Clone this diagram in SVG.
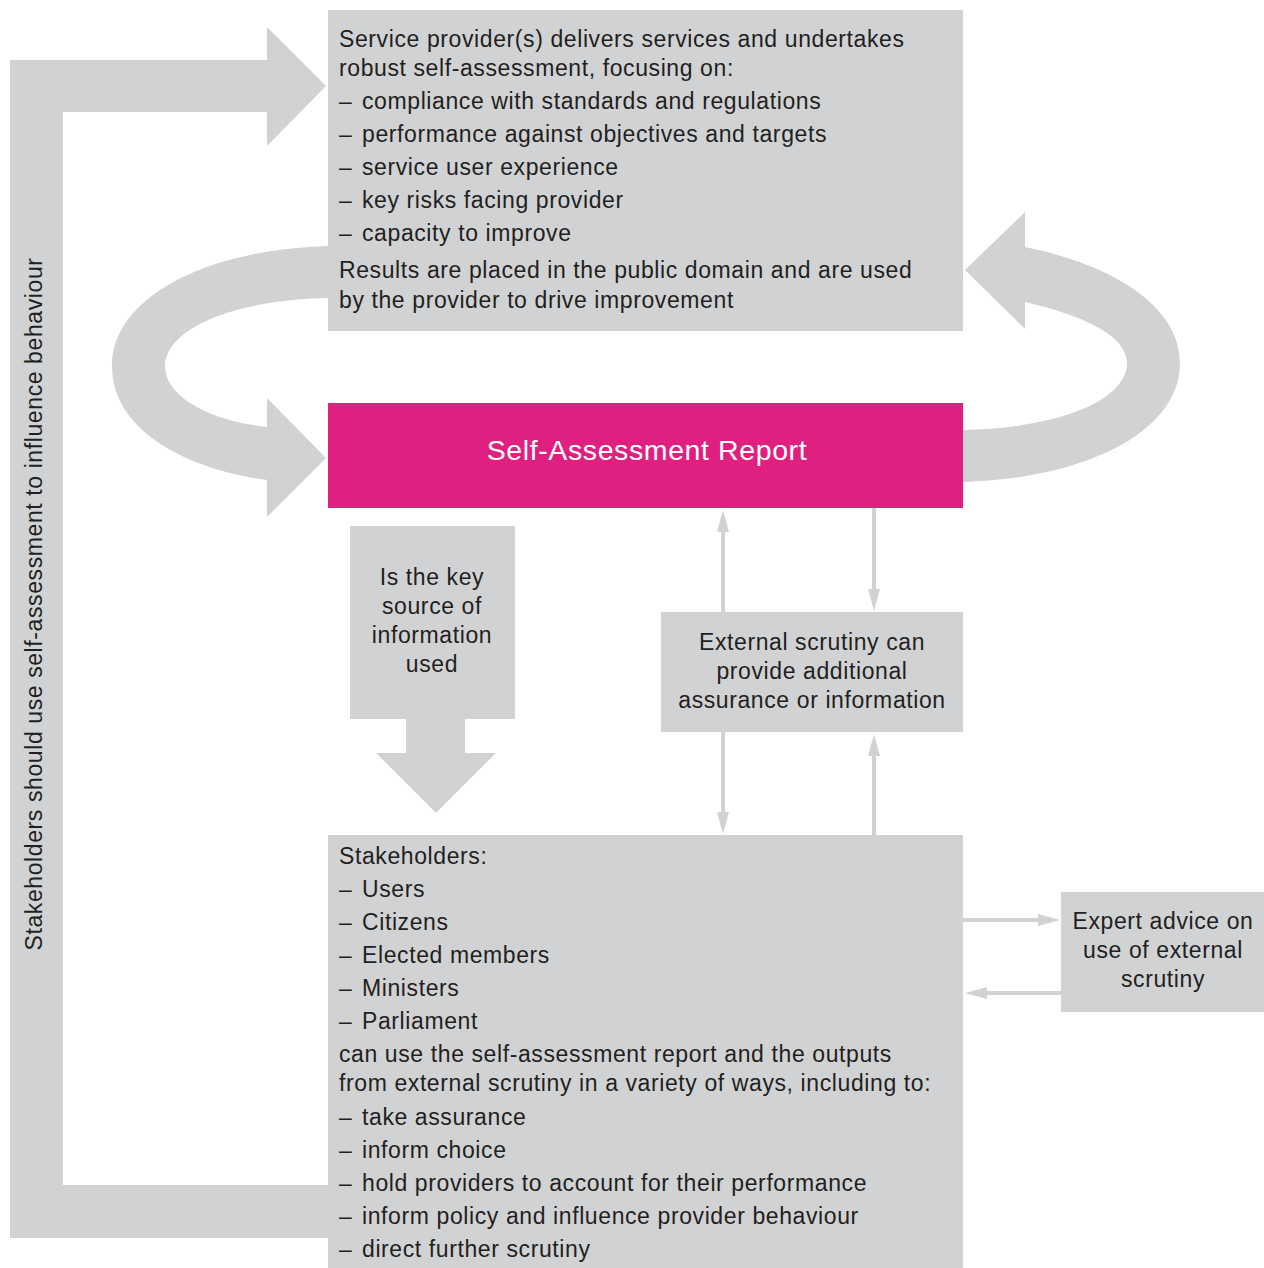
<svg xmlns="http://www.w3.org/2000/svg" width="1264" height="1268" viewBox="0 0 1264 1268">
<defs>
<style>
.box{fill:#d1d2d4}
.pink{fill:#e02081}
.big{fill:#d1d2d4}
.t{font-family:"Liberation Sans",Arial,sans-serif;font-size:23px;fill:#231f20;letter-spacing:0.6px}
.c{text-anchor:middle}
.w{font-family:"Liberation Sans",Arial,sans-serif;font-size:28.5px;fill:#ffffff;text-anchor:middle;letter-spacing:0.6px}
.ln{stroke:#d1d2d4;stroke-width:4;fill:none}
</style>
<marker id="ah" viewBox="0 0 22 12" refX="14" refY="6" markerWidth="22" markerHeight="12" markerUnits="userSpaceOnUse" orient="auto">
<path d="M0,0 L22,6 L0,12 Z" fill="#d1d2d4"/>
</marker>
</defs>
<rect width="1264" height="1268" fill="#ffffff"/>

<g id="connectors">
<path class="big" d="M328,1185 L328,1238 L10,1238 L10,60 L267,60 L267,27 L326,86 L267,146 L267,112 L63,112 L63,1185 Z"/>
<path class="big" d="M328,246 C200,250 112,300 112,366 C112,432 190,470 267,480 L267,517 L326,458 L267,398 L267,427 C205,420 165,395 165,366 C165,330 230,300 328,298 Z"/>
<path class="big" d="M965,270 L1025,212 L1025,247 C1110,264 1180,305 1180,363 C1180,430 1090,478 963,482 L963,430 C1060,428 1127,400 1127,363 C1127,336 1085,316 1025,302 L1025,329 Z"/>
<path class="big" d="M406,719 L465,719 L465,753 L496,753 L436,813 L376,753 L406,753 Z"/>
<line class="ln" x1="723" y1="612" x2="723" y2="518" marker-end="url(#ah)"/>
<line class="ln" x1="723" y1="732" x2="723" y2="826" marker-end="url(#ah)"/>
<line class="ln" x1="874" y1="508" x2="874" y2="603" marker-end="url(#ah)"/>
<line class="ln" x1="874" y1="835" x2="874" y2="742" marker-end="url(#ah)"/>
<line class="ln" x1="963" y1="920" x2="1052" y2="920" marker-end="url(#ah)"/>
<line class="ln" x1="1061" y1="993" x2="973" y2="993" marker-end="url(#ah)"/>
</g>

<g id="provider">
<rect class="box" x="328" y="10" width="635" height="321"/>
<text class="t" x="339" y="47">Service provider(s) delivers services and undertakes</text>
<text class="t" x="339" y="76">robust self-assessment, focusing on:</text>
<text class="t" x="339" y="109">–</text><text class="t" x="362" y="109">compliance with standards and regulations</text>
<text class="t" x="339" y="142">–</text><text class="t" x="362" y="142">performance against objectives and targets</text>
<text class="t" x="339" y="175">–</text><text class="t" x="362" y="175">service user experience</text>
<text class="t" x="339" y="208">–</text><text class="t" x="362" y="208">key risks facing provider</text>
<text class="t" x="339" y="241">–</text><text class="t" x="362" y="241">capacity to improve</text>
<text class="t" x="339" y="278">Results are placed in the public domain and are used</text>
<text class="t" x="339" y="308">by the provider to drive improvement</text>
</g>

<g id="report">
<rect class="pink" x="328" y="403" width="635" height="105"/>
<text class="w" x="647" y="460">Self-Assessment Report</text>
</g>

<g id="keysource">
<rect class="box" x="350" y="526" width="165" height="193"/>
<text class="t c" x="432" y="585">Is the key</text>
<text class="t c" x="432" y="614">source of</text>
<text class="t c" x="432" y="643">information</text>
<text class="t c" x="432" y="672">used</text>
</g>

<g id="external">
<rect class="box" x="661" y="612" width="302" height="120"/>
<text class="t c" x="812" y="650">External scrutiny can</text>
<text class="t c" x="812" y="679">provide additional</text>
<text class="t c" x="812" y="708">assurance or information</text>
</g>

<g id="stakeholders">
<rect class="box" x="328" y="835" width="635" height="433"/>
<text class="t" x="339" y="864">Stakeholders:</text>
<text class="t" x="339" y="897">–</text><text class="t" x="362" y="897">Users</text>
<text class="t" x="339" y="930">–</text><text class="t" x="362" y="930">Citizens</text>
<text class="t" x="339" y="963">–</text><text class="t" x="362" y="963">Elected members</text>
<text class="t" x="339" y="996">–</text><text class="t" x="362" y="996">Ministers</text>
<text class="t" x="339" y="1029">–</text><text class="t" x="362" y="1029">Parliament</text>
<text class="t" x="339" y="1062">can use the self-assessment report and the outputs</text>
<text class="t" x="339" y="1091">from external scrutiny in a variety of ways, including to:</text>
<text class="t" x="339" y="1125">–</text><text class="t" x="362" y="1125">take assurance</text>
<text class="t" x="339" y="1158">–</text><text class="t" x="362" y="1158">inform choice</text>
<text class="t" x="339" y="1191">–</text><text class="t" x="362" y="1191">hold providers to account for their performance</text>
<text class="t" x="339" y="1224">–</text><text class="t" x="362" y="1224">inform policy and influence provider behaviour</text>
<text class="t" x="339" y="1257">–</text><text class="t" x="362" y="1257">direct further scrutiny</text>
</g>

<g id="expert">
<rect class="box" x="1061" y="892" width="203" height="120"/>
<text class="t c" x="1163" y="929">Expert advice on</text>
<text class="t c" x="1163" y="958">use of external</text>
<text class="t c" x="1163" y="987">scrutiny</text>
</g>

<g id="loop-label">
<text class="t c" transform="translate(42,604) rotate(-90)">Stakeholders should use self-assessment to influence behaviour</text>
</g>
</svg>
